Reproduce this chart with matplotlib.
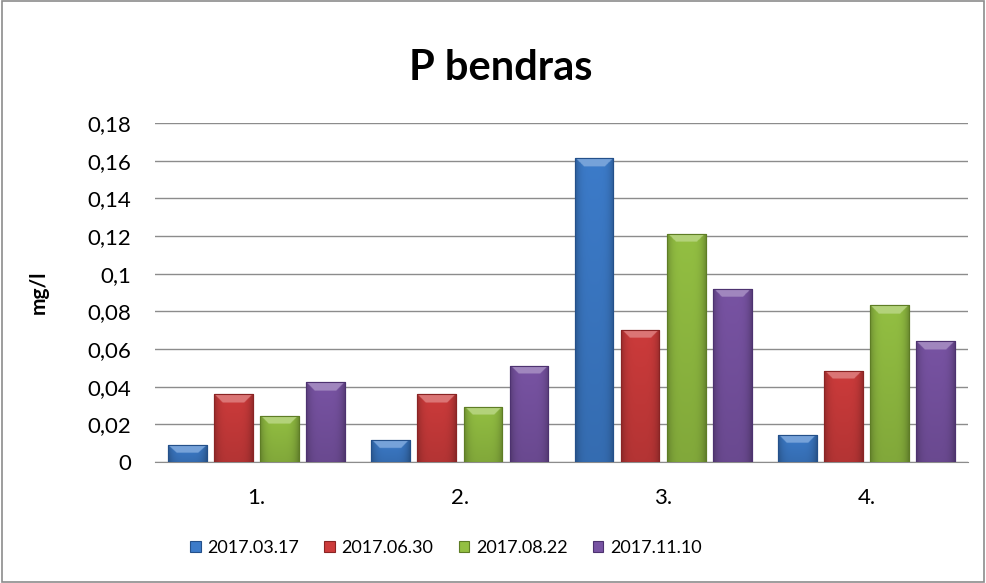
import matplotlib
matplotlib.use("Agg")
import matplotlib.pyplot as plt
from matplotlib.patches import Rectangle
from matplotlib.colors import to_rgb
import numpy as np

plt.rcParams['font.family'] = ['Lato', 'DejaVu Sans']

categories = ['1.', '2.', '3.', '4.']
series_names = ['2017.03.17', '2017.06.30', '2017.08.22', '2017.11.10']
values = [
    [0.009, 0.0117, 0.1614, 0.0145],
    [0.0361, 0.036, 0.0703, 0.0485],
    [0.0246, 0.0294, 0.1212, 0.0832],
    [0.0423, 0.0512, 0.092, 0.0642],
]
colors = ['#3c7bc9', '#cc3b3b', '#93bf42', '#7853a3']
edges = ['#24508a', '#8a2424', '#5e7d25', '#4d3270']
yticks = [0, 0.02, 0.04, 0.06, 0.08, 0.10, 0.12, 0.14, 0.16, 0.18]
ytick_labels = ['0', '0,02', '0,04', '0,06', '0,08', '0,1', '0,12', '0,14', '0,16', '0,18']


def bevel_image(color, h, cap):
    # shaded fill: darker sides, lighter trapezoid cap on top
    base = np.array(to_rgb(color))
    rows, cols = 400, 80
    xs = np.linspace(-1, 1, cols)
    side = 1.0 - 0.25 * np.abs(xs) ** 4
    ys = np.linspace(1, 0, rows)
    vert = 0.88 + 0.12 * ys
    img = base[None, None, :] * side[None, :, None] * vert[:, None, None]
    capfrac = min(cap / h, 0.45)
    ncap = max(int(round(capfrac * rows)), 1)
    light = np.clip(base * 0.7 + 0.3, 0, 1)
    for r in range(ncap):
        inset = 0.22 * (r + 1) / ncap
        mask = np.abs(xs) <= 1 - 2 * inset
        img[r, mask, :] = light
    return np.clip(img, 0, 1)


fig = plt.figure(figsize=(9.86, 5.83), dpi=100)
ax = fig.add_axes([0.157, 0.2075, 0.825, 0.5815])

x = np.arange(len(categories))
width = 0.19
step = 0.227
for i, (name, vals) in enumerate(zip(series_names, values)):
    pos = x + (i - 1.5) * step
    bars = ax.bar(pos, vals, width, color=colors[i], edgecolor=edges[i],
                  linewidth=0.8, label=name, zorder=3)
    for b in bars:
        bx, by = b.get_x(), b.get_y()
        bw, bh = b.get_width(), b.get_height()
        im = ax.imshow(bevel_image(colors[i], bh, 0.0045),
                       extent=(bx, bx + bw, by, by + bh),
                       aspect='auto', zorder=3.5, interpolation='bilinear')
        im.set_clip_path(b)
        ax.add_patch(Rectangle((bx, by), bw, bh, fill=False,
                               edgecolor=edges[i], linewidth=0.8, zorder=4))

ax.set_xlim(-0.5, len(categories) - 0.5)
ax.set_ylim(0, 0.18)
ax.set_yticks(yticks)
ax.set_yticklabels(ytick_labels, fontsize=16)
ax.set_xticks(x)
ax.set_xticklabels(categories, fontsize=16)
ax.tick_params(axis='y', length=0, pad=17)
ax.tick_params(axis='x', length=0, pad=19)
ax.yaxis.grid(True, color='#8c8c8c', linewidth=1.0, zorder=0)
ax.set_axisbelow(True)
for s in ['top', 'right', 'left']:
    ax.spines[s].set_visible(False)
ax.spines['bottom'].set_color('#8c8c8c')
ax.set_ylabel('mg/l', fontsize=15, fontweight='bold', labelpad=28)

fig.text(0.508, 0.883, 'P bendras', fontsize=30, fontweight='bold',
         ha='center', va='center')

ax.legend(loc='center', bbox_to_anchor=(0.452, 0.06), bbox_transform=fig.transFigure,
          ncol=4, frameon=False, fontsize=13, handlelength=0.6, handleheight=0.6,
          handletextpad=0.35, columnspacing=1.4)

fig.patches.append(Rectangle((0.002, 0.002), 0.996, 0.996, transform=fig.transFigure,
                             fill=False, edgecolor='#8c8c8c', linewidth=1.2))

fig.savefig('out.png', dpi=100)
